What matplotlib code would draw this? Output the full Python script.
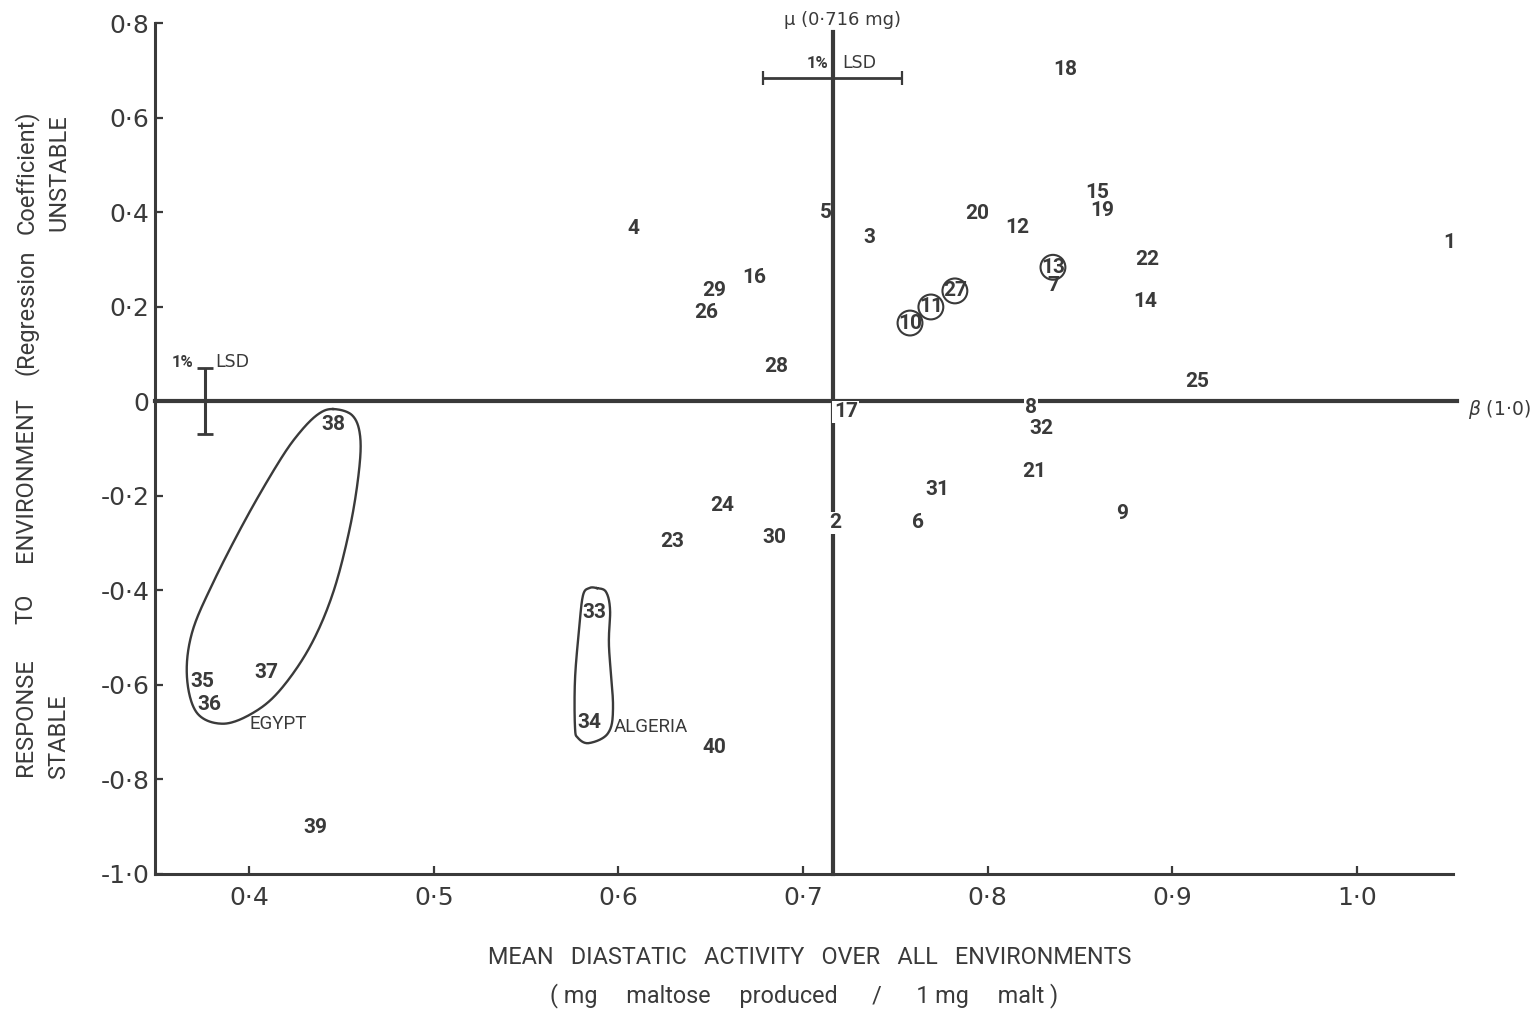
import numpy as np
import matplotlib
matplotlib.use("Agg")
import matplotlib.pyplot as plt
from matplotlib import font_manager

# genotype number, mean diastatic activity, regression coefficient (deviation from 1.0)
genotypes = list(range(1, 41))
mean_activity = [1.0497, 0.7173, 0.7357, 0.6079, 0.7125, 0.7622, 0.8353, 0.8234, 0.8727, 0.7579,
                 0.7692, 0.8158, 0.8353, 0.8851, 0.8591, 0.6734, 0.7232, 0.8418, 0.8618, 0.7942,
                 0.8250, 0.8862, 0.6290, 0.6561, 0.9133, 0.6474, 0.7822, 0.6853, 0.6518, 0.6842,
                 0.7725, 0.8288, 0.5868, 0.5841, 0.3746, 0.3783, 0.4092, 0.4455, 0.4357, 0.6518]
regression = [0.336, -0.258, 0.347, 0.366, 0.400, -0.258, 0.244, -0.013, -0.239, 0.165,
              0.199, 0.368, 0.283, 0.211, 0.442, 0.262, -0.023, 0.702, 0.404, 0.397,
              -0.150, 0.300, -0.298, -0.222, 0.042, 0.188, 0.233, 0.074, 0.233, -0.288,
              -0.188, -0.059, -0.448, -0.681, -0.594, -0.643, -0.575, -0.049, -0.903, -0.734]
circled = [10, 11, 13, 27]
on_lines = [2, 8, 17]

mu = 0.716          # overall mean
lsd_mean = 0.0376   # half of 1% LSD for the mean
lsd_reg = 0.07      # half of 1% LSD for the regression

# group outlines
egypt_x = [0.4455, 0.4558, 0.4601, 0.4596, 0.4547, 0.4455, 0.4330, 0.4168, 0.4022, 0.3859,
           0.3718, 0.3664, 0.3691, 0.3805, 0.3989, 0.4168, 0.4276, 0.4374]
egypt_y = [-0.017, -0.030, -0.072, -0.146, -0.267, -0.406, -0.520, -0.612, -0.660, -0.683,
           -0.660, -0.584, -0.491, -0.385, -0.245, -0.125, -0.066, -0.028]
algeria_x = [0.5884, 0.5933, 0.5955, 0.5949, 0.5971, 0.5944, 0.5841, 0.5781, 0.5765, 0.5765,
             0.5787, 0.5808, 0.5841]
algeria_y = [-0.396, -0.404, -0.442, -0.518, -0.647, -0.703, -0.724, -0.713, -0.690, -0.590,
             -0.484, -0.412, -0.396]

x_ticks = [0.4, 0.5, 0.6, 0.7, 0.8, 0.9, 1.0]
x_ticklabels = ["0·4", "0·5", "0·6", "0·7", "0·8", "0·9", "1·0"]
y_ticks = [0.8, 0.6, 0.4, 0.2, 0.0, -0.2, -0.4, -0.6, -0.8, -1.0]
y_ticklabels = ["0·8", "0·6", "0·4", "0·2", "0", "-0·2", "-0·4", "-0·6", "-0·8", "-1·0"]

INK = "#3a3a3a"

names = {f.name for f in font_manager.fontManager.ttflist}
NARROW = "Roboto" if "Roboto" in names else "DejaVu Sans"
plt.rcParams["font.family"] = "DejaVu Sans"
plt.rcParams["mathtext.fontset"] = "dejavusans"


def closed_curve(xs, ys, n=24):
    # closed Catmull-Rom curve through the outline points
    P = np.column_stack([xs, ys])
    m = len(P)
    t = np.linspace(0, 1, n, endpoint=False)[:, None]
    segs = []
    for i in range(m):
        p0, p1, p2, p3 = P[i - 1], P[i], P[(i + 1) % m], P[(i + 2) % m]
        segs.append(0.5 * (2 * p1 + (-p0 + p2) * t + (2 * p0 - 5 * p1 + 4 * p2 - p3) * t ** 2
                           + (-p0 + 3 * p1 - 3 * p2 + p3) * t ** 3))
    segs.append(P[:1])
    c = np.vstack(segs)
    return c[:, 0], c[:, 1]


fig = plt.figure(figsize=(15.34, 10.11), dpi=100)
ax = fig.add_axes([0.10104, 0.13600, 0.84615, 0.84125])
ax.set_xlim(0.3491, 1.0519)
ax.set_ylim(-1.0, 0.8)

for s in ["top", "right"]:
    ax.spines[s].set_visible(False)
for s in ["left", "bottom"]:
    ax.spines[s].set_linewidth(2.2)
    ax.spines[s].set_color(INK)

ax.set_xticks(x_ticks)
ax.set_xticklabels(x_ticklabels, fontsize=18, color=INK)
ax.set_yticks(y_ticks)
ax.set_yticklabels(y_ticklabels, fontsize=18, color=INK)
ax.tick_params(axis="both", direction="in", length=6, width=1.6, color=INK)
ax.tick_params(axis="x", pad=9)
ax.tick_params(axis="y", pad=4)

# reference lines
ax.plot([mu, mu], [-1.0, 0.781], color=INK, lw=3, zorder=2, clip_on=False)
ax.plot([0.3491, 1.054], [0, 0], color=INK, lw=3, zorder=2, clip_on=False)

# 1% LSD bars
ax.errorbar([mu], [0.683], xerr=[lsd_mean], fmt="none", ecolor=INK, elinewidth=2,
            capsize=5, capthick=1.6, zorder=3)
ax.errorbar([0.3762], [0.0], yerr=[lsd_reg], fmt="none", ecolor=INK, elinewidth=2.2,
            capsize=6, capthick=2, zorder=3)
ax.text(mu - 0.002, 0.715, "1%", ha="right", va="center", fontsize=12, color=INK,
        family=NARROW, fontweight="bold")
ax.text(mu + 0.005, 0.715, "LSD", ha="left", va="center", fontsize=12.5, color=INK)
ax.text(0.3697, 0.0825, "1%", ha="right", va="center", fontsize=12, color=INK,
        family=NARROW, fontweight="bold")
ax.text(0.3816, 0.0825, "LSD", ha="left", va="center", fontsize=12.5, color=INK)

ax.text(0.7211, 0.806, "μ (0·716 mg)", ha="center", va="center", fontsize=13,
        color=INK, clip_on=False)
ax.text(1.060, -0.019, r"$\beta$ (1·0)", ha="left", va="center", fontsize=13.5,
        color=INK, clip_on=False)

# genotype numbers
for g, x, y in zip(genotypes, mean_activity, regression):
    kw = {}
    if g in on_lines:
        kw["bbox"] = dict(facecolor="white", edgecolor="none", pad=1.0)
    ax.text(x, y, str(g), ha="center", va="center", fontsize=15, fontweight="bold",
            family=NARROW, color=INK, zorder=4, clip_on=False, **kw)

cx = [mean_activity[genotypes.index(g)] for g in circled]
cy = [regression[genotypes.index(g)] for g in circled]
ax.scatter(cx, cy, s=320, facecolors="none", edgecolors=INK, linewidths=1.5, zorder=3)

# group outlines
ex, ey = closed_curve(egypt_x, egypt_y)
ax.plot(ex, ey, color=INK, lw=1.7)
axx, axy = closed_curve(algeria_x, algeria_y)
ax.plot(axx, axy, color=INK, lw=1.7)
ax.text(0.4157, -0.684, "EGYPT", ha="center", va="center", fontsize=13.5, family=NARROW, color=INK)
ax.text(0.5975, -0.690, "ALGERIA", ha="left", va="center", fontsize=13.5, family=NARROW, color=INK)

# axis titles
fig.text(0.528, 1 - 958 / 1011, "MEAN   DIASTATIC   ACTIVITY   OVER   ALL   ENVIRONMENTS",
         ha="center", va="center", fontsize=16.8, family=NARROW, color=INK)
fig.text(0.524, 1 - 996 / 1011, "( mg     maltose     produced      /      1 mg     malt )",
         ha="center", va="center", fontsize=16.8, family=NARROW, color=INK)

ylab_col1 = [("RESPONSE", 717), ("TO", 609), ("ENVIRONMENT", 480), ("(Regression", 312),
             ("Coefficient)", 172)]
for txt, py in ylab_col1:
    fig.text(26 / 1534, 1 - py / 1011, txt, rotation=90, ha="center", va="center",
             fontsize=17, family=NARROW, color=INK)
for txt, py in [("STABLE", 737), ("UNSTABLE", 173)]:
    fig.text(59 / 1534, 1 - py / 1011, txt, rotation=90, ha="center", va="center",
             fontsize=17, family=NARROW, color=INK)

fig.savefig("out.png", dpi=100, facecolor="white")
